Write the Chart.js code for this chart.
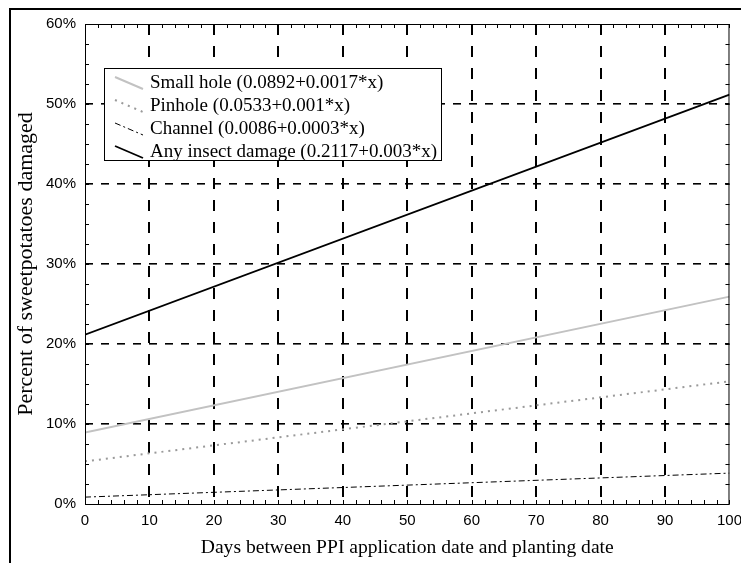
<!DOCTYPE html>
<html>
<head>
<meta charset="utf-8">
<script src="https://cdn.jsdelivr.net/npm/chart.js@4/dist/chart.umd.min.js"></script>
<style>
    html, body { margin: 0; padding: 0; background: #fff; overflow: hidden; }
    #wrap { width: 750px; height: 563px; }
</style>
</head>
<body>
<div id="wrap"><canvas id="chart" width="750" height="563"></canvas></div>
<script>
    // Values (percent of roots damaged).
    const days = [0, 100];
    const smallHole = [8.92, 25.92];
    const pinhole = [5.33, 15.33];
    const channel = [0.86, 3.86];
    const anyDamage = [21.17, 51.17];
    const seriesLabels = [
        "Small hole (0.0892+0.0017*x)",
        "Pinhole (0.0533+0.001*x)",
        "Channel (0.0086+0.0003*x)",
        "Any insect damage (0.2117+0.003*x)",
    ];
    const xTicks = [0, 10, 20, 30, 40, 50, 60, 70, 80, 90, 100];
    const yTicks = [0, 10, 20, 30, 40, 50, 60];

    const SERIF = "'Liberation Serif', 'Times New Roman', serif";
    const SANS = "'Liberation Sans', Arial, sans-serif";

    const toPoints = (vals) => vals.map((v, i) => ({ x: days[i], y: v }));

    const styles = [
        { color: "#c2c2c2", width: 2, dash: [] },
        { color: "#9a9a9a", width: 2, dash: [2, 5] },
        { color: "#000000", width: 1, dash: [6, 3, 2, 3] },
        { color: "#000000", width: 1.8, dash: [] },
    ];
    const values = [smallHole, pinhole, channel, anyDamage];

    const datasets = values.map((vals, i) => ({
        label: seriesLabels[i],
        data: toPoints(vals),
        borderColor: styles[i].color,
        borderWidth: styles[i].width,
        borderDash: styles[i].dash,
        pointRadius: 0,
        fill: false,
        tension: 0,
    }));

    // frame, minor ticks and the boxed legend with slanted samples
    const decorations = {
        id: "decorations",
        afterDraw(chart) {
            const { ctx, chartArea: a, scales } = chart;
            const xs = scales.x, ys = scales.y;
            ctx.save();
            ctx.setLineDash([]);
            ctx.strokeStyle = "#000";
            ctx.lineWidth = 1;
            ctx.strokeRect(a.left + 0.5, a.top + 0.5, a.right - a.left - 1, a.bottom - a.top);

            ctx.beginPath();
            for (let v = 0; v <= 100; v += 2) {
                const px = Math.round(xs.getPixelForValue(v)) + 0.5;
                ctx.moveTo(px, a.bottom); ctx.lineTo(px, a.bottom - 4);
                ctx.moveTo(px, a.top); ctx.lineTo(px, a.top + 4);
            }
            for (let v = 0; v <= 60; v += 2.5) {
                const py = Math.round(ys.getPixelForValue(v)) + 0.5;
                ctx.moveTo(a.left, py); ctx.lineTo(a.left + 4, py);
                ctx.moveTo(a.right, py); ctx.lineTo(a.right - 4, py);
            }
            ctx.stroke();

            // outer frame of the figure
            ctx.lineWidth = 2;
            ctx.beginPath();
            ctx.moveTo(10, chart.height);
            ctx.lineTo(10, 9);
            ctx.lineTo(chart.width, 9);
            ctx.stroke();

            // legend
            const box = { left: 104, top: 68, right: 441, bottom: 160 };
            ctx.fillStyle = "#fff";
            ctx.fillRect(box.left, box.top, box.right - box.left, box.bottom - box.top);
            ctx.lineWidth = 1;
            ctx.strokeStyle = "#000";
            ctx.strokeRect(box.left + 0.5, box.top + 0.5, box.right - box.left, box.bottom - box.top);
            ctx.font = "19px " + SERIF;
            ctx.textBaseline = "middle";
            ctx.textAlign = "left";
            chart.data.datasets.forEach((ds, i) => {
                const cy = 83 + i * 23;
                ctx.strokeStyle = ds.borderColor;
                ctx.lineWidth = ds.borderWidth;
                ctx.setLineDash(ds.borderDash);
                ctx.beginPath();
                ctx.moveTo(115, cy - 6);
                ctx.lineTo(143, cy + 6);
                ctx.stroke();
                ctx.setLineDash([]);
                ctx.fillStyle = "#000";
                ctx.fillText(ds.label, 150, cy);
            });
            ctx.restore();
        },
    };

    new Chart(document.getElementById("chart").getContext("2d"), {
        type: "line",
        data: { datasets },
        options: {
            responsive: false,
            animation: false,
            devicePixelRatio: 1,
            layout: { padding: { top: 24, right: 15, left: 0, bottom: 0 } },
            plugins: { legend: { display: false }, tooltip: { enabled: false } },
            scales: {
                x: {
                    type: "linear",
                    min: 0,
                    max: 100,
                    afterBuildTicks: (s) => { s.ticks = xTicks.map((v) => ({ value: v })); },
                    afterFit: (s) => { s.height = 59; },
                    ticks: { color: "#000", font: { family: SANS, size: 15 }, padding: 8, maxRotation: 0 },
                    grid: {
                        drawTicks: false,
                        lineWidth: 2,
                        color: (c) => (c.tick && (c.tick.value === 0 || c.tick.value === 100) ? "rgba(0,0,0,0)" : "#000"),
                    },
                    border: { display: false, dash: [11, 11] },
                    title: {
                        display: true,
                        text: "Days between PPI application date and planting date",
                        color: "#000",
                        font: { family: SERIF, size: 19.6 },
                        padding: { top: 0, bottom: 3 },
                    },
                },
                y: {
                    min: 0,
                    max: 60,
                    afterBuildTicks: (s) => { s.ticks = yTicks.map((v) => ({ value: v })); },
                    afterFit: (s) => { s.width = 85; },
                    ticks: {
                        color: "#000",
                        font: { family: SANS, size: 15 },
                        padding: 9,
                        callback: (v) => v + "%",
                    },
                    grid: {
                        drawTicks: false,
                        lineWidth: 1.6,
                        color: (c) => (c.tick && (c.tick.value === 0 || c.tick.value === 60) ? "rgba(0,0,0,0)" : "#000"),
                    },
                    border: { display: false, dash: [8, 8] },
                    title: {
                        display: true,
                        text: "Percent of sweetpotatoes damaged",
                        color: "#000",
                        font: { family: SERIF, size: 22 },
                        padding: { top: 13, bottom: 0 },
                    },
                },
            },
        },
        plugins: [decorations],
    });
</script>
</body>
</html>
